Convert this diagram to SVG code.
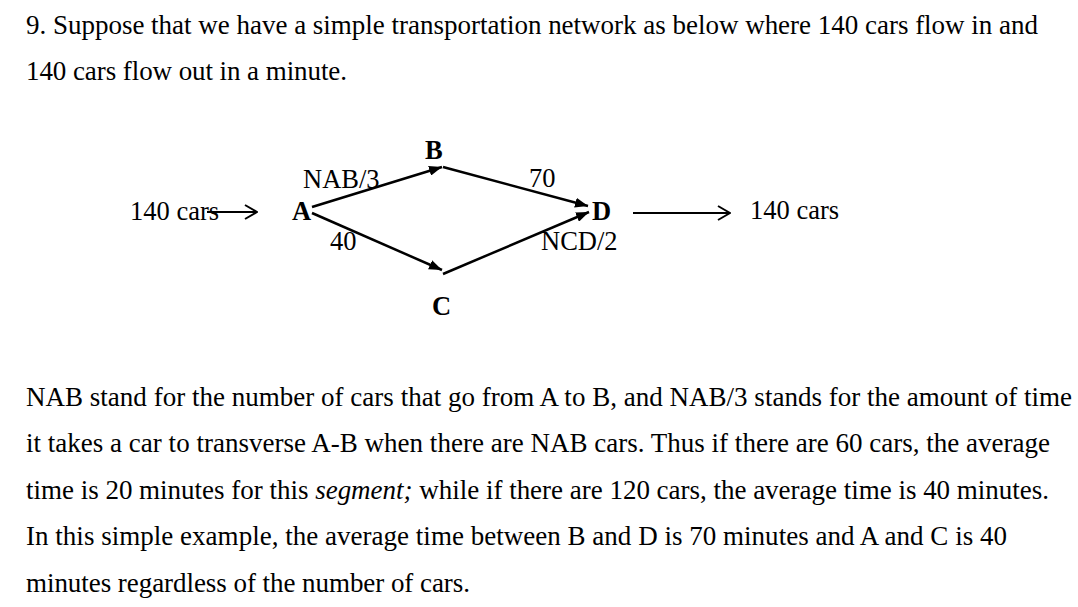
<svg xmlns="http://www.w3.org/2000/svg" width="1078" height="607" viewBox="0 0 1078 607">
<defs>
<marker id="fill" viewBox="0 0 13 10" refX="13" refY="5" markerWidth="13" markerHeight="10" markerUnits="userSpaceOnUse" orient="auto">
<path d="M0,0 L13,5 L0,10 z" fill="#000"/>
</marker>
<marker id="open" viewBox="0 0 14 16" refX="13" refY="8" markerWidth="14" markerHeight="16" markerUnits="userSpaceOnUse" orient="auto">
<path d="M1,1 L13,8 L1,15" fill="none" stroke="#000" stroke-width="2"/>
</marker>
</defs>
<style>
text{font-family:"Liberation Serif","Times New Roman",serif;fill:#000}
.p{font-size:27px}
.d{font-size:26.5px}
.n{font-size:26.5px;font-weight:bold}
.e{stroke:#000;stroke-width:2.5;fill:none}
.io{stroke:#000;stroke-width:2;fill:none}
</style>
<rect width="1078" height="607" fill="#fff"/>
<g id="intro">
<text class="p" x="26" y="34" textLength="1012" lengthAdjust="spacing">9. Suppose that we have a simple transportation network as below where 140 cars flow in and</text>
<text class="p" x="26" y="80" textLength="321" lengthAdjust="spacing">140 cars flow out in a minute.</text>
</g>
<g id="connectors">
<line class="io" x1="207" y1="212" x2="257" y2="212" marker-end="url(#open)"/>
<line class="e" x1="312" y1="207" x2="442" y2="167" marker-end="url(#fill)"/>
<line class="e" x1="312" y1="213" x2="442" y2="270" marker-end="url(#fill)"/>
<line class="e" x1="443" y1="167" x2="588" y2="206" marker-end="url(#fill)"/>
<line class="e" x1="443" y1="274" x2="589" y2="212" marker-end="url(#fill)"/>
<line class="io" x1="633" y1="213" x2="730" y2="213" marker-end="url(#open)"/>
</g>
<g id="source"><text class="d" x="130" y="220">140 cars</text></g>
<g id="node-A"><text class="n" x="292" y="220">A</text></g>
<g id="node-B"><text class="n" x="425" y="159">B</text></g>
<g id="node-C"><text class="n" x="432" y="315">C</text></g>
<g id="node-D"><text class="n" x="592" y="220">D</text></g>
<g id="sink"><text class="d" x="750" y="219">140 cars</text></g>
<g id="labels">
<text class="d" x="303" y="188">NAB/3</text>
<text class="d" x="330" y="250">40</text>
<text class="d" x="529" y="187">70</text>
<text class="d" x="541" y="250">NCD/2</text>
</g>
<g id="explanation">
<text class="p" x="26" y="406" textLength="1046" lengthAdjust="spacing">NAB stand for the number of cars that go from A to B, and NAB/3 stands for the amount of time</text>
<text class="p" x="26" y="452" textLength="1024" lengthAdjust="spacing">it takes a car to transverse A-B when there are NAB cars. Thus if there are 60 cars, the average</text>
<text class="p" x="26" y="499" textLength="1023" lengthAdjust="spacing">time is 20 minutes for this <tspan font-style="italic">segment;</tspan> while if there are 120 cars, the average time is 40 minutes.</text>
<text class="p" x="26" y="545" textLength="981" lengthAdjust="spacing">In this simple example, the average time between B and D is 70 minutes and A and C is 40</text>
<text class="p" x="26" y="592" textLength="444" lengthAdjust="spacing">minutes regardless of the number of cars.</text>
</g>
</svg>
